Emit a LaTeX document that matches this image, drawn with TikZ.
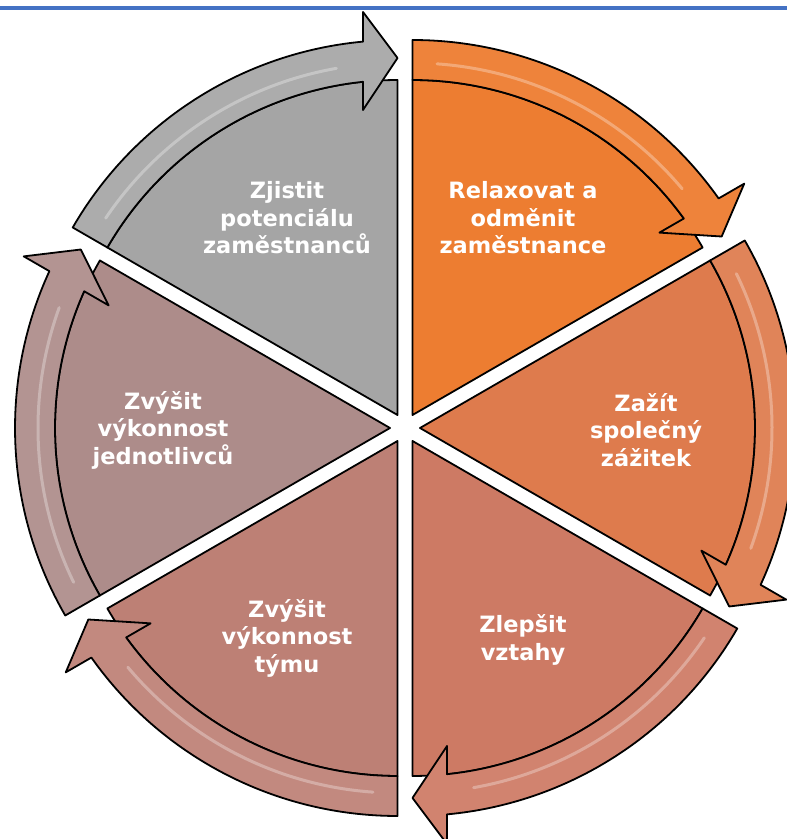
\documentclass[tikz,border=0pt]{standalone}
\usepackage{fontspec}
\setmainfont{DejaVu Sans}
\definecolor{cgray}{HTML}{A5A5A5}
\definecolor{corange}{HTML}{ED7D31}
\definecolor{cthree}{HTML}{DE7B4D}
\definecolor{cfour}{HTML}{CD7A64}
\definecolor{cfive}{HTML}{BD8075}
\definecolor{csix}{HTML}{AD8C8A}
\definecolor{topblue}{HTML}{4472C4}
\tikzset{
  sectorstyle/.style={draw=black, line width=1.8pt, line join=round},
  bandstyle/.style={draw=black, line width=1.8pt, line join=round},
  gloss/.style={draw=white, line width=3pt, opacity=0.3, line cap=round},
  lbl/.style={align=center, text=white, font=\bfseries\fontsize{22.5}{27.5}\selectfont, inner sep=0pt}
}
\newcommand\drawsegment[3]{%
  \begin{scope}[shift={(405,411)}, shift={(#1:15)}, rotate=#1-120]
    \path[sectorstyle, fill=#2] (0,0) -- (150:335) arc[start angle=150, end angle=90, radius=335] -- cycle;
    \path[bandstyle, fill=#3] (150:375) arc[start angle=150, end angle=95.28, radius=375]
      -- (-34.5,403) -- (0,357) -- (-34.5,305)
      -- (95.91:335) arc[start angle=95.91, end angle=150, radius=335] -- cycle;
    \draw[gloss] (146:352) arc[start angle=146, end angle=100, radius=352];
  \end{scope}}
\begin{document}
\begin{tikzpicture}[x=1pt, y=1pt]
  \useasboundingbox (0,0) rectangle (787,839);
  \draw[topblue, line width=4pt] (0,831) -- (787,831);
  \drawsegment{120}{cgray}{cgray!92!white}
  \drawsegment{60}{corange}{corange!95!white}
  \drawsegment{0}{cthree}{cthree!93!white}
  \drawsegment{-60}{cfour}{cfour!93!white}
  \drawsegment{-120}{cfive}{cfive!93!white}
  \drawsegment{180}{csix}{csix!93!white}
  \node[lbl] (t1) at (287,621) {Zjistit\\potenciálu\\zaměstnanců};
  \node[lbl] (t2) at (523,621) {Relaxovat a\\odměnit\\zaměstnance};
  \node[lbl] (t3) at (646,409) {Zažít\\společný\\zážitek};
  \node[lbl] (t4) at (523,199) {Zlepšit\\vztahy};
  \node[lbl] (t5) at (287,201) {Zvýšit\\výkonnost\\týmu};
  \node[lbl] (t6) at (163,409) {Zvýšit\\výkonnost\\jednotlivců};
\end{tikzpicture}
\end{document}
